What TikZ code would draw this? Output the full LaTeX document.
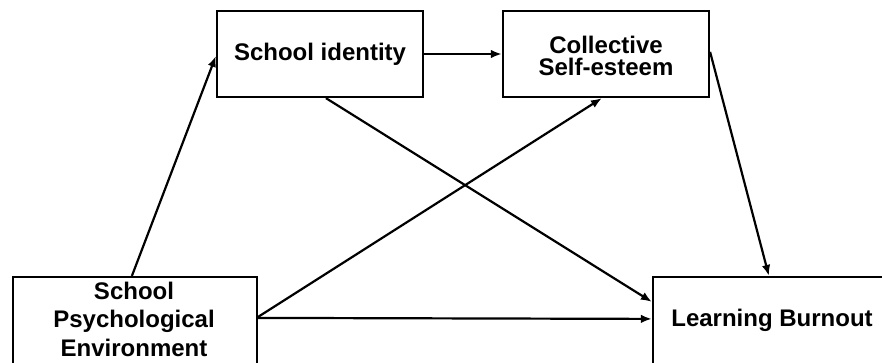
\documentclass[tikz,border=0pt]{standalone}
\usepackage{fontspec}
\setmainfont{Liberation Sans}
\usetikzlibrary{arrows.meta}
\begin{document}
\begin{tikzpicture}[x=1pt,y=-1pt,
  box/.style={draw, line width=2.2pt, rectangle, inner sep=0pt},
  txt/.style={align=center, inner sep=0pt, font=\bfseries\fontsize{24}{28.5}\selectfont},
  link/.style={line width=2.2pt, -{Latex[length=11pt,width=8.5pt]}}]
\useasboundingbox (0,0) rectangle (882,362);
\clip (0,0) rectangle (882,362);
% boxes
\node[box, minimum width=206pt, minimum height=86pt] (si) at (320,54) {};
\node[box, minimum width=206pt, minimum height=86pt] (cse) at (606,54) {};
\node[box, minimum width=244pt, minimum height=96pt] (spe) at (135,325) {};
\node[box, minimum width=240pt, minimum height=96pt] (lb) at (773,325) {};
% labels
\node[txt] (sit) at (si.center) {School identity};
\node[txt, font=\bfseries\fontsize{24}{22}\selectfont] (cset) at ([yshift=-2pt]cse.center) {Collective\\Self-esteem};
\node[txt] (spet) at (134,319) {School\\Psychological\\Environment};
\node[txt] (lbt) at (772,320) {Learning Burnout};
% paths
\draw[link] ([xshift=120pt]spe.north west) -- ([yshift=-46pt]si.north west);
\draw[link] (si.east) -- (cse.west);
\draw[link] ([xshift=110pt]si.south west) -- ([yshift=-26pt]lb.north west);
\draw[link] ([yshift=-41pt]spe.north east) -- ([xshift=100pt]cse.south west);
\draw[link] ([yshift=-42pt]spe.north east) -- ([yshift=-43pt]lb.north west);
\draw[link] ([yshift=-42pt]cse.north east) -- ([xshift=117pt]lb.north west);
\end{tikzpicture}
\end{document}
